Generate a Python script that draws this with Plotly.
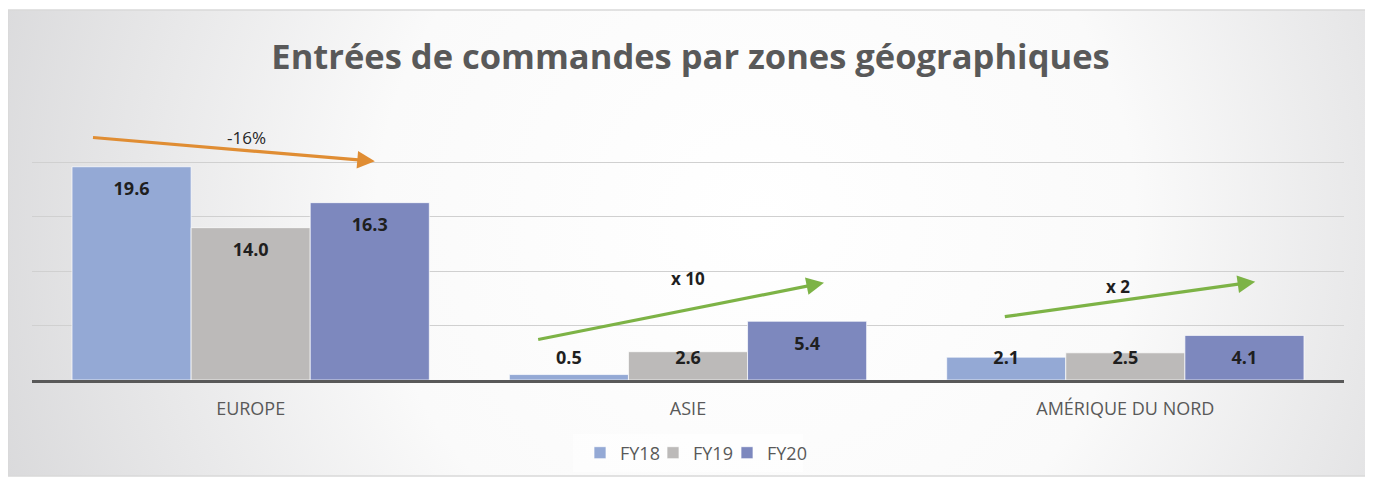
import base64
import numpy as np
import plotly.graph_objects as go

categories = ["EUROPE", "ASIE", "AMÉRIQUE DU NORD"]
series_names = ["FY18", "FY19", "FY20"]
fy18 = [19.6, 0.5, 2.1]
fy19 = [14.0, 2.6, 2.5]
fy20 = [16.3, 5.4, 4.1]
colors = ["#94A9D5", "#BCBAB9", "#7D88BE"]

# the page body adds an 8px margin; compensate so the picture lands where intended
OFF = 8
W, H = 1373 - OFF, 479 - OFF
# plot area in page pixels
PL, PR, PT, PB = 32, 1344, 108, 380
YMAX = 25
legend_ids = ["legend", "legend2", "legend3"]
legend_px = [580, 653, 727]   # page x of each legend entry

fig = go.Figure()
for name, vals, col, lg in zip(series_names, [fy18, fy19, fy20], colors, legend_ids):
    fig.add_trace(go.Bar(
        name=name, x=categories, y=vals, legend=lg,
        marker=dict(color=col, line=dict(color="rgba(255,255,255,0.7)", width=1)),
        offsetgroup=name,
    ))

# value labels ("inside end" style, kept readable for small bars)
for i, (name, vals) in enumerate(zip(series_names, [fy18, fy19, fy20])):
    v = np.array(vals)
    ly = np.maximum(v - 2.2, 1.85)
    fig.add_trace(go.Scatter(
        x=categories, y=ly, mode="text", text=[f"{x:.1f}" for x in v],
        textfont=dict(family="Open Sans", size=18, color="#1f1f1f", weight="bold"),
        showlegend=False, hoverinfo="skip", offsetgroup=name, xaxis="x", yaxis="y",
    ))

fig.update_layout(barmode="group", scattermode="group")

# background radial gradient (chart area)
svg = """<svg xmlns='http://www.w3.org/2000/svg' width='1360' height='466' viewBox='0 0 1360 466' preserveAspectRatio='none'>
<defs><radialGradient id='g' cx='0.55' cy='0.45' r='0.62' gradientTransform='translate(0.55 0.45) scale(1 2.9) translate(-0.55 -0.45)'>
<stop offset='0' stop-color='#FFFFFF'/><stop offset='0.45' stop-color='#FAFAFA'/><stop offset='1' stop-color='#D6D6D8'/></radialGradient></defs>
<rect x='0' y='0' width='1360' height='466' fill='url(#g)'/></svg>"""
uri = "data:image/svg+xml;base64," + base64.b64encode(svg.encode()).decode()

def px2paperx(px):
    return (px - PL) / (PR - PL)

def px2papery(py):
    return (PB - py) / (PB - PT)

fig.add_layout_image(dict(
    source=uri, xref="paper", yref="paper",
    x=px2paperx(8), y=px2papery(10),
    sizex=px2paperx(1368) - px2paperx(8), sizey=px2papery(10) - px2papery(476),
    sizing="stretch", layer="below", xanchor="left", yanchor="top",
))
fig.add_shape(type="rect", xref="paper", yref="paper",
              x0=px2paperx(8), x1=px2paperx(1368), y0=px2papery(476), y1=px2papery(10),
              line=dict(color="#D9D9D9", width=1.5), layer="below")
# faint legend box
fig.add_shape(type="rect", xref="paper", yref="paper",
              x0=px2paperx(573), x1=px2paperx(803), y0=px2papery(472), y1=px2papery(434),
              line=dict(width=0), fillcolor="rgba(255,255,255,0.6)", layer="below")

# trend arrows
arrows = [
    dict(x=0.284, y=20.1, ax=-0.364, ay=22.3, color="#E08D33", label="-16%", lx=-0.01, ly=22.3, bold=False),
    dict(x=1.311, y=8.94, ax=0.654, ay=3.69, color="#7DB346", label="x 10", lx=1.0, ly=9.3, bold=True),
    dict(x=2.297, y=9.03, ax=1.721, ay=5.8, color="#7DB346", label="x 2", lx=1.984, ly=8.6, bold=True),
]
for a in arrows:
    fig.add_annotation(x=a["x"], y=a["y"], ax=a["ax"], ay=a["ay"], xref="x", yref="y",
                       axref="x", ayref="y", text="", showarrow=True, arrowhead=2,
                       arrowsize=1.1, arrowwidth=3.2, arrowcolor=a["color"], standoff=0)
    fig.add_annotation(x=a["lx"], y=a["ly"], xref="x", yref="y", text=a["label"], showarrow=False,
                       font=dict(family="Open Sans", size=17, color="#1f1f1f" if a["bold"] else "#262626",
                                 weight="bold" if a["bold"] else "normal"))

legend_common = dict(orientation="h", xanchor="left", xref="container", yref="container",
                     y=1 - (453 - OFF) / H, yanchor="middle",
                     font=dict(family="Open Sans", size=18, color="#595959"),
                     bgcolor="rgba(0,0,0,0)", itemwidth=30)

fig.update_layout(
    width=W, height=H,
    margin=dict(l=PL - OFF, r=1373 - PR, t=PT - OFF, b=479 - PB, pad=0, autoexpand=False),
    paper_bgcolor="white", plot_bgcolor="rgba(0,0,0,0)",
    title=dict(text="<b>Entrées de commandes par zones géographiques</b>", x=0.5, xanchor="center",
               y=1 - (57 - OFF) / H, yanchor="middle",
               font=dict(family="Open Sans", size=34.5, color="#595959")),
    bargap=0.183, bargroupgap=0,
    showlegend=True,
    legend=dict(legend_common, x=(legend_px[0] - OFF) / W),
    legend2=dict(legend_common, x=(legend_px[1] - OFF) / W),
    legend3=dict(legend_common, x=(legend_px[2] - OFF) / W),
    xaxis=dict(showgrid=False, showline=True, linecolor="#595959", linewidth=3,
               tickfont=dict(family="Open Sans", size=18, color="#595959"),
               ticks="", ticklabelstandoff=10, automargin=False),
    yaxis=dict(range=[0, YMAX], dtick=5, showticklabels=False, gridcolor="#D0D0D0", gridwidth=1,
               zeroline=False, showline=False, automargin=False),
)

fig.write_html("out.html")
